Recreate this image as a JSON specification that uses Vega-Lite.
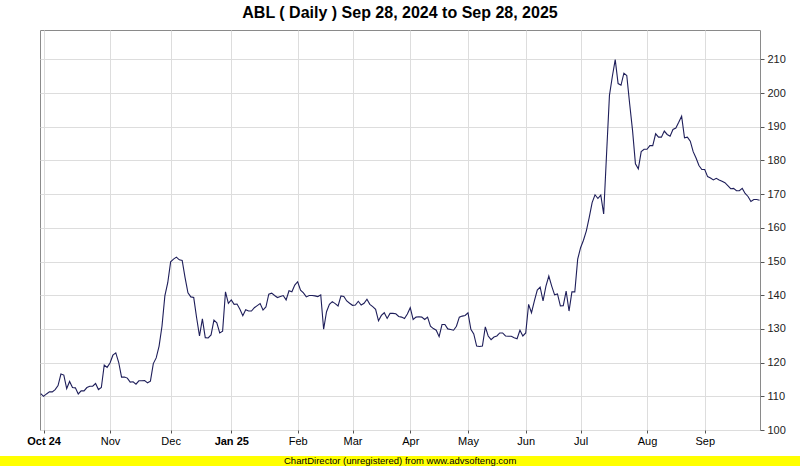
{
  "$schema": "https://vega.github.io/schema/vega-lite/v6.json",
  "width": 720,
  "height": 400,
  "autosize": {"type": "none"},
  "padding": {"left": 40, "top": 30, "right": 40, "bottom": 36},
  "background": "#ffffff",
  "title": {
    "text": "ABL ( Daily ) Sep 28, 2024 to Sep 28, 2025",
    "font": "Liberation Sans Narrow, Liberation Sans, Arial",
    "fontSize": 16,
    "fontWeight": "bold",
    "color": "#000000",
    "anchor": "middle",
    "offset": 9
  },
  "config": {
    "view": {"stroke": "#8a8a8a", "strokeWidth": 1},
    "axis": {
      "labelFont": "Liberation Sans Narrow, Liberation Sans, Arial",
      "labelFontSize": 11,
      "labelColor": "#000000",
      "gridColor": "#dddddd",
      "gridWidth": 1,
      "tickColor": "#555555",
      "domain": false,
      "title": null
    }
  },
  "layer": [
    {
      "data": {
        "values": [
          {"i":0,"v":110.8},{"i":1,"v":110.0},{"i":2,"v":110.7},{"i":3,"v":111.3},{"i":4,"v":111.3},{"i":5,"v":112.0},{"i":6,"v":113.2},{"i":7,"v":116.6},{"i":8,"v":116.3},{"i":9,"v":112.3},
          {"i":10,"v":114.4},{"i":11,"v":112.6},{"i":12,"v":112.5},{"i":13,"v":110.7},{"i":14,"v":111.6},{"i":15,"v":111.6},{"i":16,"v":112.6},{"i":17,"v":113.0},{"i":18,"v":113.0},{"i":19,"v":113.8},
          {"i":20,"v":112.0},{"i":21,"v":112.6},{"i":22,"v":119.3},{"i":23,"v":118.6},{"i":24,"v":119.9},{"i":25,"v":122.2},{"i":26,"v":122.9},{"i":27,"v":120.1},{"i":28,"v":115.7},{"i":29,"v":115.7},
          {"i":30,"v":115.4},{"i":31,"v":114.2},{"i":32,"v":114.3},{"i":33,"v":113.6},{"i":34,"v":114.6},{"i":35,"v":114.6},{"i":36,"v":114.7},{"i":37,"v":114.0},{"i":38,"v":114.5},{"i":39,"v":119.7},
          {"i":40,"v":121.4},{"i":41,"v":124.9},{"i":42,"v":130.8},{"i":43,"v":139.8},{"i":44,"v":143.7},{"i":45,"v":149.9},{"i":46,"v":150.7},{"i":47,"v":151.3},{"i":48,"v":150.5},{"i":49,"v":150.3},
          {"i":50,"v":145.2},{"i":51,"v":140.7},{"i":52,"v":139.5},{"i":53,"v":139.3},{"i":54,"v":133.3},{"i":55,"v":127.9},{"i":56,"v":133.0},{"i":57,"v":127.4},{"i":58,"v":127.3},{"i":59,"v":128.2},
          {"i":60,"v":132.6},{"i":61,"v":131.8},{"i":62,"v":128.8},{"i":63,"v":129.3},{"i":64,"v":141.0},{"i":65,"v":137.6},{"i":66,"v":138.6},{"i":67,"v":137.3},{"i":68,"v":137.4},{"i":69,"v":135.8},
          {"i":70,"v":133.9},{"i":71,"v":135.7},{"i":72,"v":135.3},{"i":73,"v":135.3},{"i":74,"v":136.3},{"i":75,"v":136.9},{"i":76,"v":137.5},{"i":77,"v":135.6},{"i":78,"v":136.5},{"i":79,"v":140.3},
          {"i":80,"v":140.6},{"i":81,"v":139.9},{"i":82,"v":139.3},{"i":83,"v":139.6},{"i":84,"v":139.9},{"i":85,"v":138.6},{"i":86,"v":141.3},{"i":87,"v":141.0},{"i":88,"v":143.0},{"i":89,"v":144.0},
          {"i":90,"v":141.5},{"i":91,"v":140.7},{"i":92,"v":139.5},{"i":93,"v":139.9},{"i":94,"v":139.9},{"i":95,"v":139.8},{"i":96,"v":139.6},{"i":97,"v":140.1},{"i":98,"v":129.9},{"i":99,"v":135.1},
          {"i":100,"v":137.3},{"i":101,"v":138.1},{"i":102,"v":137.5},{"i":103,"v":136.8},{"i":104,"v":139.8},{"i":105,"v":139.6},{"i":106,"v":138.3},{"i":107,"v":137.6},{"i":108,"v":137.0},{"i":109,"v":137.1},
          {"i":110,"v":138.2},{"i":111,"v":137.1},{"i":112,"v":137.6},{"i":113,"v":138.8},{"i":114,"v":137.3},{"i":115,"v":136.6},{"i":116,"v":135.8},{"i":117,"v":132.4},{"i":118,"v":134.0},{"i":119,"v":134.8},
          {"i":120,"v":133.1},{"i":121,"v":134.6},{"i":122,"v":134.6},{"i":123,"v":134.5},{"i":124,"v":133.7},{"i":125,"v":133.5},{"i":126,"v":133.1},{"i":127,"v":134.4},{"i":128,"v":136.3},{"i":129,"v":132.8},
          {"i":130,"v":133.5},{"i":131,"v":133.6},{"i":132,"v":133.5},{"i":133,"v":132.8},{"i":134,"v":133.5},{"i":135,"v":130.8},{"i":136,"v":130.1},{"i":137,"v":129.6},{"i":138,"v":127.7},{"i":139,"v":131.3},
          {"i":140,"v":131.3},{"i":141,"v":130.0},{"i":142,"v":129.8},{"i":143,"v":129.6},{"i":144,"v":130.8},{"i":145,"v":133.5},{"i":146,"v":133.8},{"i":147,"v":134.0},{"i":148,"v":134.8},{"i":149,"v":129.9},
          {"i":150,"v":128.5},{"i":151,"v":124.9},{"i":152,"v":124.8},{"i":153,"v":124.9},{"i":154,"v":130.6},{"i":155,"v":127.9},{"i":156,"v":126.8},{"i":157,"v":127.6},{"i":158,"v":127.9},{"i":159,"v":128.8},
          {"i":160,"v":128.8},{"i":161,"v":127.9},{"i":162,"v":127.8},{"i":163,"v":127.8},{"i":164,"v":127.4},{"i":165,"v":127.1},{"i":166,"v":129.6},{"i":167,"v":127.9},{"i":168,"v":128.8},{"i":169,"v":137.3},
          {"i":170,"v":134.8},{"i":171,"v":138.3},{"i":172,"v":141.5},{"i":173,"v":142.4},{"i":174,"v":138.3},{"i":175,"v":142.7},{"i":176,"v":145.7},{"i":177,"v":142.7},{"i":178,"v":140.1},{"i":179,"v":140.4},
          {"i":180,"v":136.8},{"i":181,"v":136.9},{"i":182,"v":141.2},{"i":183,"v":135.3},{"i":184,"v":141.0},{"i":185,"v":141.0},{"i":186,"v":150.7},{"i":187,"v":154.1},{"i":188,"v":156.3},{"i":189,"v":159.1},
          {"i":190,"v":163.1},{"i":191,"v":167.5},{"i":192,"v":169.8},{"i":193,"v":168.7},{"i":194,"v":169.7},{"i":195,"v":164.1},{"i":196,"v":181.9},{"i":197,"v":199.3},{"i":198,"v":204.9},{"i":199,"v":209.9},
          {"i":200,"v":202.8},{"i":201,"v":202.3},{"i":202,"v":205.9},{"i":203,"v":205.2},{"i":204,"v":196.8},{"i":205,"v":188.9},{"i":206,"v":179.0},{"i":207,"v":177.5},{"i":208,"v":182.6},{"i":209,"v":183.3},
          {"i":210,"v":183.3},{"i":211,"v":184.4},{"i":212,"v":184.4},{"i":213,"v":187.9},{"i":214,"v":186.9},{"i":215,"v":186.9},{"i":216,"v":188.7},{"i":217,"v":187.7},{"i":218,"v":187.2},{"i":219,"v":189.2},
          {"i":220,"v":189.6},{"i":221,"v":191.3},{"i":222,"v":193.1},{"i":223,"v":186.7},{"i":224,"v":186.9},{"i":225,"v":185.7},{"i":226,"v":182.6},{"i":227,"v":180.7},{"i":228,"v":178.5},{"i":229,"v":177.3},
          {"i":230,"v":177.3},{"i":231,"v":175.2},{"i":232,"v":174.8},{"i":233,"v":174.2},{"i":234,"v":174.7},{"i":235,"v":174.2},{"i":236,"v":173.8},{"i":237,"v":173.4},{"i":238,"v":172.5},{"i":239,"v":171.6},
          {"i":240,"v":171.7},{"i":241,"v":171.0},{"i":242,"v":171.0},{"i":243,"v":171.7},{"i":244,"v":170.2},{"i":245,"v":169.3},{"i":246,"v":167.8},{"i":247,"v":168.4},{"i":248,"v":168.4},{"i":249,"v":168.2}
        ]
      },
      "mark": {"type": "line", "color": "#1e1e5a", "strokeWidth": 1.1, "clip": true},
      "encoding": {
        "x": {
          "field": "i",
          "type": "quantitative",
          "scale": {"domain": [-0.25, 249.15], "nice": false, "zero": false},
          "axis": {
            "values": [1, 24, 45, 66, 89, 108, 128, 148, 168, 187, 210, 230],
            "labelExpr": "['Oct 24','Nov','Dec','Jan 25','Feb','Mar','Apr','May','Jun','Jul','Aug','Sep'][indexof([1,24,45,66,89,108,128,148,168,187,210,230], datum.value)]",
            "labelFontWeight": {"condition": {"test": "datum.value == 1 || datum.value == 66", "value": "bold"}, "value": "normal"},
            "tickSize": 3,
            "labelPadding": 2,
            "labelFlush": false,
            "labelOverlap": false
          }
        },
        "y": {
          "field": "v",
          "type": "quantitative",
          "scale": {"domain": [100, 218.7], "nice": false, "zero": false},
          "axis": {
            "orient": "right",
            "values": [100, 110, 120, 130, 140, 150, 160, 170, 180, 190, 200, 210],
            "tickSize": 4,
            "labelPadding": 3,
            "labelFlush": false,
            "labelOverlap": false,
            "labelColor": "#222222"
          }
        }
      }
    },
    {
      "data": {"values": [{"note": "ChartDirector (unregistered) from www.advsofteng.com"}]},
      "mark": {"type": "rect", "color": "#ffff00", "clip": false},
      "encoding": {
        "x": {
          "datum": -14.2,
          "axis": {
            "values": [1, 24, 45, 66, 89, 108, 128, 148, 168, 187, 210, 230],
            "labelExpr": "['Oct 24','Nov','Dec','Jan 25','Feb','Mar','Apr','May','Jun','Jul','Aug','Sep'][indexof([1,24,45,66,89,108,128,148,168,187,210,230], datum.value)]",
            "labelFontWeight": {"condition": {"test": "datum.value == 1 || datum.value == 66", "value": "bold"}, "value": "normal"},
            "tickSize": 3,
            "labelPadding": 2,
            "labelFlush": false,
            "labelOverlap": false
          }
        },
        "x2": {"datum": 263.2},
        "y": {
          "datum": 92.3,
          "axis": {
            "orient": "right",
            "values": [100, 110, 120, 130, 140, 150, 160, 170, 180, 190, 200, 210],
            "tickSize": 4,
            "labelPadding": 3,
            "labelFlush": false,
            "labelOverlap": false,
            "labelColor": "#222222"
          }
        },
        "y2": {"datum": 89.2}
      }
    },
    {
      "data": {"values": [{"note": "ChartDirector (unregistered) from www.advsofteng.com"}]},
      "mark": {"type": "text", "font": "Liberation Sans Narrow, Liberation Sans, Arial", "fontSize": 9.5, "color": "#000000", "baseline": "middle", "align": "center", "clip": false},
      "encoding": {
        "x": {
          "datum": 124.5,
          "axis": {
            "values": [1, 24, 45, 66, 89, 108, 128, 148, 168, 187, 210, 230],
            "labelExpr": "['Oct 24','Nov','Dec','Jan 25','Feb','Mar','Apr','May','Jun','Jul','Aug','Sep'][indexof([1,24,45,66,89,108,128,148,168,187,210,230], datum.value)]",
            "labelFontWeight": {"condition": {"test": "datum.value == 1 || datum.value == 66", "value": "bold"}, "value": "normal"},
            "tickSize": 3,
            "labelPadding": 2,
            "labelFlush": false,
            "labelOverlap": false
          }
        },
        "y": {
          "datum": 90.75,
          "axis": {
            "orient": "right",
            "values": [100, 110, 120, 130, 140, 150, 160, 170, 180, 190, 200, 210],
            "tickSize": 4,
            "labelPadding": 3,
            "labelFlush": false,
            "labelOverlap": false,
            "labelColor": "#222222"
          }
        },
        "text": {"field": "note"}
      }
    }
  ]
}
